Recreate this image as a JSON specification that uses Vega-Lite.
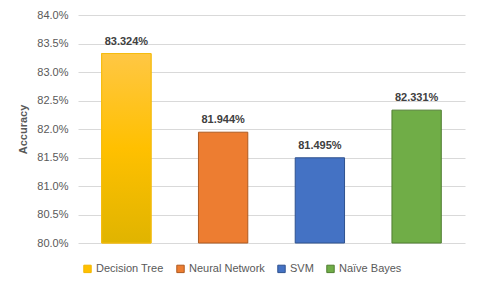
{
  "$schema": "https://vega.github.io/schema/vega-lite/v6.json",
  "autosize": "none",
  "width": 387,
  "height": 228,
  "padding": {"left": 78, "top": 15, "right": 17, "bottom": 46},
  "background": "white",
  "config": {
    "view": {"stroke": null},
    "font": "Liberation Sans"
  },
  "data": {
    "values": [
      {"model": "Decision Tree", "accuracy": 83.324, "label": "83.324%"},
      {"model": "Neural Network", "accuracy": 81.944, "label": "81.944%"},
      {"model": "SVM", "accuracy": 81.495, "label": "81.495%"},
      {"model": "Naïve Bayes", "accuracy": 82.331, "label": "82.331%"}
    ]
  },
  "encoding": {
    "x": {
      "field": "model", "type": "nominal", "sort": null,
      "scale": {"paddingInner": 0.49, "paddingOuter": 0.245},
      "axis": null
    },
    "y": {
      "field": "accuracy", "type": "quantitative",
      "scale": {"domain": [80, 84], "zero": false, "clamp": true},
      "axis": {
        "title": "Accuracy",
        "titleFont": "Liberation Sans", "titleFontSize": 11, "titleFontWeight": "bold", "titleColor": "#595959",
        "titlePadding": 8,
        "values": [80, 80.5, 81, 81.5, 82, 82.5, 83, 83.5, 84],
        "labelExpr": "format(datum.value, '.1f') + '%'",
        "labelFontSize": 11, "labelColor": "#595959", "labelPadding": 10,
        "domain": false, "ticks": false,
        "grid": true, "gridColor": "#D9D9D9", "gridWidth": 1
      }
    }
  },
  "layer": [
    {
      "mark": {"type": "bar", "strokeWidth": 1},
      "encoding": {
        "fill": {
          "field": "model", "type": "nominal",
          "scale": {"domain": ["Decision Tree", "Neural Network", "SVM", "Naïve Bayes"], "range": ["#FFC000", "#ED7D31", "#4472C4", "#70AD47"]},
          "legend": {
            "title": null, "orient": "none", "direction": "horizontal",
            "legendX": 4, "legendY": 248,
            "symbolType": "square", "symbolSize": 55, "symbolStrokeWidth": 1,
            "labelFontSize": 11, "labelColor": "#595959", "columnPadding": 10, "labelOffset": 3
          }
        },
        "stroke": {
          "field": "model", "type": "nominal",
          "scale": {"domain": ["Decision Tree", "Neural Network", "SVM", "Naïve Bayes"], "range": ["#F2B600", "#AE5A21", "#2F528F", "#507E32"]}
        }
      }
    },
    {
      "transform": [{"filter": "datum.model === 'Decision Tree'"}],
      "mark": {
        "type": "bar", "strokeWidth": 1, "stroke": "#F5BC10",
        "fill": {
          "gradient": "linear", "x1": 0, "y1": 0, "x2": 0, "y2": 1,
          "stops": [
            {"offset": 0, "color": "#FFC744"},
            {"offset": 0.5, "color": "#FFC000"},
            {"offset": 1, "color": "#E0B400"}
          ]
        }
      }
    },
    {
      "mark": {"type": "text", "baseline": "bottom", "dy": -7, "fontSize": 11, "fontWeight": "bold", "color": "#404040"},
      "encoding": {"text": {"field": "label"}}
    }
  ]
}
